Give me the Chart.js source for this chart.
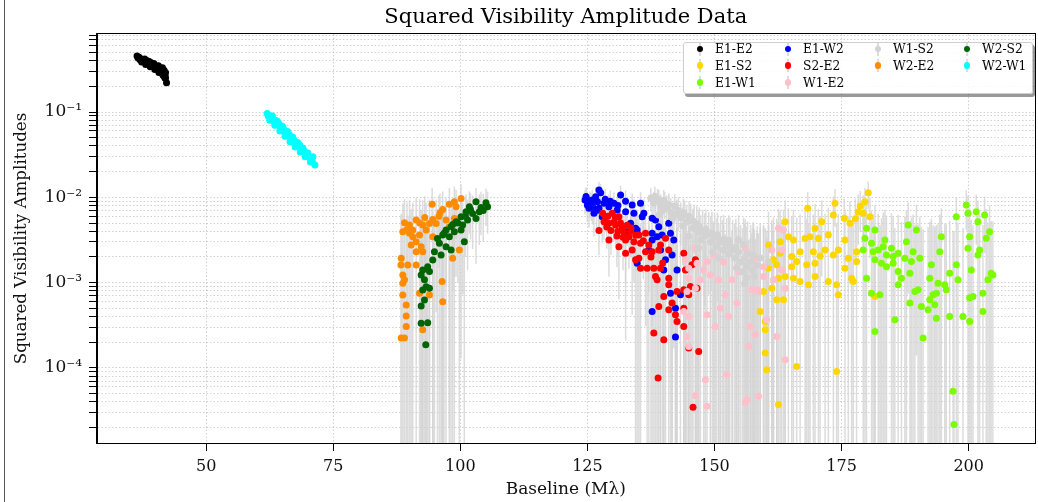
<!DOCTYPE html>
<html>
<head>
<meta charset="utf-8">
<title>Squared Visibility Amplitude Data</title>
<script src="https://cdn.jsdelivr.net/npm/chart.js@4.4.0/dist/chart.umd.min.js"></script>
<style>
  html, body { margin: 0; padding: 0; background: #fff; }
  #wrap { position: relative; width: 1038px; height: 502px; overflow: hidden; }
  #edge { position: absolute; left: 4px; top: 0; width: 1px; height: 502px; background: #555; }
  #legend {
    position: absolute; left: 683px; top: 42px; width: 348px; height: 50px;
    border: 1px solid #cfcfcf; border-radius: 3px; background: rgba(255,255,255,0.85);
    box-shadow: 2px 3px 0 rgba(0,0,0,0.4);
    font-family: 'DejaVu Serif', serif; font-size: 12.3px; color: #000;
  }
  .item { position: absolute; height: 17px; display: flex; align-items: center; white-space: nowrap; }
  .mk { position: relative; width: 12px; height: 17px; margin-right: 9px; flex: none; }
  .mk .bar { position: absolute; left: 5.25px; top: 2px; width: 1.5px; height: 13px; background: rgba(211,211,211,0.8); }
  .mk .dot { position: absolute; left: 2.75px; top: 5.25px; width: 6.5px; height: 6.5px; border-radius: 50%; }
</style>
</head>
<body>
<div id="wrap">
  <canvas id="chart" width="1038" height="502"></canvas>
  <div id="edge"></div>
  <div id="legend"></div>
</div>
<script>
// Baseline pairs, each point is [baseline (Mλ), V²]
const seriesNames = ['E1-E2', 'E1-S2', 'E1-W1', 'E1-W2', 'S2-E2', 'W1-E2', 'W1-S2', 'W2-E2', 'W2-S2', 'W2-W1'];

const E1_E2 = [[36.4,0.455],[36.6,0.43],[36.8,0.44],[37.0,0.41],[37.2,0.42],[37.5,0.40],[37.7,0.41],[38.0,0.39],[38.2,0.38],[38.4,0.40],
  [38.7,0.37],[38.9,0.36],[39.1,0.38],[39.4,0.35],[39.6,0.34],[39.8,0.36],[40.1,0.33],[40.3,0.32],[40.5,0.34],[40.8,0.31],
  [41.0,0.30],[41.2,0.32],[41.4,0.29],[41.6,0.28],[41.7,0.31],[41.9,0.27],[42.0,0.29],[41.8,0.26],[42.0,0.25],[42.2,0.22],
  [37.3,0.385],[38.1,0.36],[39.0,0.34],[39.9,0.315],[40.7,0.29],[41.5,0.27],[41.9,0.25],
  [37.9,0.42],[38.8,0.39],[39.7,0.37],[40.6,0.35],[41.4,0.33]];

const E1_S2 = [[168.33,0.00744],[173.71,0.00851],[180.24,0.01132],[179.59,0.00888],[178.28,0.00679],[179.26,0.00650],[180.58,0.00593],
  [163.90,0.00518],[171.08,0.00518],[173.38,0.00621],[175.53,0.00568],[176.65,0.00497],[169.78,0.00434],[172.39,0.00362],
  [167.82,0.00331],[168.80,0.00346],[170.43,0.00331],[164.54,0.00346],[165.53,0.00317],[162.92,0.00302],[160.63,0.00277],
  [175.67,0.00317],[177.95,0.00231],[174.36,0.00242],[171.75,0.00242],[169.45,0.00231],[166.84,0.00231],[165.19,0.00202],
  [162.92,0.00221],[161.60,0.00185],[166.17,0.00177],[168.13,0.00162],[169.78,0.00169],[170.77,0.00206],[173.38,0.00211],
  [176.32,0.00193],[177.95,0.00177],[175.67,0.00148],[160.63,0.00148],[162.25,0.00162],[165.19,0.00154],[163.90,0.00118],
  [162.58,0.00113],[165.53,0.00113],[166.84,0.00103],[168.47,0.000943],[169.78,0.00118],[172.39,0.00103],[174.02,0.000943],
  [174.36,0.000720],[176.97,0.00113],[177.30,0.00103],[161.27,0.000863],[159.64,0.000787],[162.25,0.000629],[163.57,0.000629],
  [181.56,0.000688],[158.99,0.000459],[159.98,0.000351],[159.98,0.000281],[159.98,0.000150],[160.29,0.0000955],[166.17,0.000104],
  [174.02,0.0000912],[162.58,0.0000372],[178.67,0.0079],[177.70,0.0056]];

const E1_W1 = [[179.91,0.00434],[181.56,0.00414],[179.59,0.00331],[180.89,0.00290],[179.26,0.00242],[181.22,0.00231],[182.21,0.00242],
  [183.52,0.00317],[183.19,0.00264],[184.81,0.00253],[183.83,0.00211],[185.15,0.00202],[186.13,0.00221],[181.56,0.00185],
  [182.85,0.00169],[183.83,0.00154],[185.15,0.00169],[188.09,0.00474],[189.72,0.00414],[187.76,0.00302],[189.07,0.00231],
  [187.44,0.00193],[188.74,0.00177],[190.39,0.00193],[186.13,0.00135],[188.43,0.00129],[186.78,0.00113],[186.13,0.000943],
  [190.05,0.000824],[189.41,0.000787],[188.43,0.000576],[179.91,0.00113],[180.89,0.000754],[182.54,0.000720],[185.48,0.000367],
  [181.56,0.000268],[191.03,0.000224],[190.70,0.000525],[192.66,0.00162],[192.35,0.00113],[193.97,0.000987],[193.64,0.000754],
  [192.99,0.000720],[192.35,0.000629],[192.01,0.000481],[193.33,0.000550],[193.64,0.000384],[194.62,0.00346],[194.31,0.00231],
  [195.29,0.000943],[195.60,0.000824],[196.27,0.00129],[197.57,0.00162],[197.90,0.00108],[196.27,0.000401],[197.57,0.00593],
  [199.53,0.00813],[199.86,0.00650],[200.19,0.00346],[199.86,0.00253],[200.51,0.00141],[200.19,0.000659],[200.84,0.000688],
  [198.88,0.000401],[200.19,0.000351],[201.49,0.00679],[201.82,0.00518],[203.13,0.00621],[204.11,0.00396],[203.45,0.00331],
  [202.15,0.00242],[201.82,0.00211],[204.42,0.00129],[204.76,0.00123],[203.78,0.00108],[202.80,0.000754],[202.80,0.000459],
  [196.92,0.0000532],[197.11,0.0000217]];

const E1_W2 = [[124.98,0.00813],[125.96,0.00930],[126.62,0.01016],[127.60,0.01132],[125.31,0.00744],[126.29,0.00650],[127.27,0.00744],
  [128.25,0.00851],[129.23,0.00776],[127.92,0.00593],[130.21,0.00851],[131.53,0.01064],[130.86,0.00710],[133.80,0.00813],
  [135.45,0.00851],[134.14,0.00650],[135.77,0.00593],[133.49,0.00497],[134.47,0.00434],[132.51,0.00396],[138.39,0.00543],
  [139.04,0.00453],[141.00,0.00497],[137.73,0.00379],[138.71,0.00346],[141.99,0.00317],[137.08,0.00242],[141.65,0.00211],
  [140.36,0.00185],[134.78,0.00169],[140.02,0.00141],[142.63,0.00141],[141.34,0.000754],[143.30,0.000720],[137.73,0.000459],
  [142.32,0.000503],[142.32,0.000230],[132.51,0.00679],[136.10,0.00650],[137.73,0.00568],[139.69,0.00362],[141.34,0.00379],
  [134.78,0.00414],[137.73,0.00317],[139.38,0.00242],[124.53,0.0093],[124.72,0.0102],[125.77,0.0083],[126.98,0.0089],[127.27,0.0122],
  [125.5,0.0087],[126.0,0.0078],[126.8,0.0070],[128.5,0.0095],[129.5,0.0090],[124.8,0.0097],[131.0,0.0080],[132.5,0.0090]];

const S2_E2 = [[128.58,0.00593],[129.88,0.00650],[131.19,0.00593],[129.23,0.00497],[130.55,0.00474],[131.84,0.00453],[128.25,0.00518],
  [129.23,0.00317],[131.19,0.00264],[132.51,0.00317],[133.16,0.00346],[134.14,0.00302],[135.12,0.00362],[136.43,0.00379],
  [135.45,0.00290],[137.08,0.00277],[132.51,0.00221],[133.80,0.00242],[136.43,0.00231],[135.12,0.00193],[137.73,0.00231],
  [139.04,0.00242],[140.36,0.00331],[139.38,0.00277],[141.00,0.00242],[135.45,0.00148],[136.75,0.00148],[138.06,0.00148],
  [139.38,0.00148],[134.47,0.00185],[138.39,0.00118],[138.71,0.00108],[141.00,0.00113],[143.95,0.00221],[146.24,0.00185],
  [145.57,0.00162],[144.28,0.00141],[141.00,0.000943],[142.63,0.000787],[143.95,0.000824],[145.26,0.000900],[146.56,0.000863],
  [144.93,0.000720],[140.02,0.000688],[139.04,0.000525],[141.65,0.000576],[141.00,0.000481],[142.32,0.000420],[143.95,0.000503],
  [142.63,0.000351],[143.95,0.000307],[138.06,0.000257],[140.02,0.000214],[144.93,0.000171],[146.89,0.000156],[138.90,0.0000764],
  [145.77,0.0000346],[129.62,0.0041],[130.80,0.00353],[132.18,0.00393],[133.57,0.00437],[127.27,0.0041],[130.21,0.0051],
  [128.0,0.0065],[129.0,0.0060],[130.5,0.0058],[131.5,0.0050],[132.8,0.0047],[133.5,0.0040],[134.5,0.0036],[131.0,0.0040],
  [132.0,0.0034],[128.8,0.0045],[136.0,0.0031],[137.5,0.0020],[139.8,0.0017]];

const W1_E2 = [[146.24,0.00253],[144.28,0.00185],[144.93,0.00148],[146.56,0.00169],[148.52,0.00177],[149.18,0.00123],[147.22,0.00108],
  [144.93,0.00113],[144.59,0.000787],[146.24,0.000863],[143.95,0.000459],[144.93,0.000401],[148.52,0.000420],[151.15,0.000503],
  [152.13,0.000720],[153.42,0.00108],[150.81,0.00108],[150.16,0.000307],[152.77,0.000401],[154.40,0.000576],[157.68,0.00193],
  [156.05,0.00253],[159.64,0.00154],[158.34,0.000824],[159.64,0.00118],[157.03,0.000307],[158.01,0.000245],[156.70,0.000179],
  [144.93,0.000179],[144.59,0.000234],[152.44,0.0000835],[148.20,0.0000730],[146.24,0.0000474],[148.52,0.0000356],[156.05,0.0000390],
  [163.57,0.00414],[163.23,0.00242],[163.23,0.00141],[162.25,0.000234],[163.90,0.000125],[162.58,0.00434],[161.27,0.00242],
  [161.60,0.00108],[157.35,0.000824],[158.66,0.000787],[163.90,0.000863],[160.29,0.000367],[156.37,0.0000426],[158.66,0.0000465],
  [147.87,0.00141],[149.83,0.00211],[151.79,0.00175],[154.74,0.00134]];

const W1_S2 = [[137.47,0.00981],[138.26,0.0103],[139.04,0.00930],[138.06,0.00857],[139.43,0.00791],[140.22,0.00857],[140.61,0.00750],
  [141.40,0.00673],[139.82,0.00710],[142.18,0.00791],[142.57,0.00638],[143.36,0.00573],[141.79,0.00573],[144.14,0.00621],
  [144.53,0.00514],[143.75,0.00461],[145.32,0.00543],[145.71,0.00437],[146.50,0.00487],[146.89,0.00393],[147.67,0.00414],
  [148.07,0.00353],[147.28,0.00317],[148.85,0.00372],[149.24,0.00300],[150.03,0.00334],[150.42,0.00269],[151.20,0.00300],
  [151.60,0.00242],[149.64,0.00229],[152.38,0.00269],[152.77,0.00217],[153.56,0.00242],[153.95,0.00195],[154.74,0.00229],
  [155.13,0.00175],[154.34,0.00149],[155.91,0.00195],[156.31,0.00157],[155.52,0.00134],[157.09,0.00175],[157.48,0.00141],
  [156.31,0.00114],[157.88,0.00119],[155.91,0.000968],[154.74,0.00317],[144.93,0.00353],[150.81,0.00195],[146.89,0.00255],
  [139.04,0.00621],[152.77,0.00317],[155.72,0.00277],[158.99,0.00195],[160.63,0.00175],
  [138.8,0.0095],[140.0,0.0092],[141.0,0.0082],[142.9,0.0070],[143.9,0.0066],[145.0,0.0060],[146.0,0.0052],[147.0,0.0046],
  [148.3,0.0042],[149.5,0.0038],[150.6,0.0036],[151.8,0.0032],[153.0,0.0028],[154.2,0.0026],[156.5,0.0022],[157.6,0.0021],[158.4,0.0016]];

const W2_E2 = [[94.45,0.00833],[97.84,0.00833],[98.82,0.00886],[100.14,0.00971],[99.16,0.00774],[96.53,0.00722],[89.01,0.00503],
  [89.99,0.00473],[88.68,0.00395],[90.64,0.00413],[91.31,0.00541],[92.60,0.00473],[93.92,0.00495],[94.57,0.00551],[95.24,0.00495],
  [93.27,0.00413],[90.64,0.00345],[91.96,0.00361],[91.31,0.00302],[90.33,0.00276],[92.29,0.00264],[91.31,0.00230],[92.60,0.00230],
  [94.57,0.00345],[97.19,0.00541],[97.84,0.00452],[98.82,0.00566],[88.37,0.00193],[88.31,0.00161],[89.66,0.00161],[91.31,0.00161],
  [99.80,0.00241],[98.49,0.00193],[88.68,0.00123],[89.01,0.00108],[88.68,0.000984],[96.41,0.00103],[91.96,0.000752],[93.92,0.000718],
  [88.68,0.000718],[89.35,0.000548],[96.53,0.000599],[89.35,0.000408],[89.35,0.000306],[92.60,0.000280],[88.37,0.000224],
  [89.01,0.000224],[89.5,0.0042],[90.0,0.0038],[92.0,0.0050],[93.0,0.0058],[95.8,0.0060],[96.0,0.0066]];

const W2_S2 = [[103.08,0.00886],[105.04,0.00862],[105.36,0.00774],[104.06,0.00762],[101.77,0.00774],[101.12,0.00677],[102.41,0.00648],
  [103.73,0.00677],[100.14,0.00591],[101.43,0.00541],[103.08,0.00566],[99.16,0.00517],[100.45,0.00473],[98.18,0.00452],
  [97.19,0.00413],[98.82,0.00395],[96.53,0.00361],[97.84,0.00345],[100.14,0.00413],[100.78,0.00302],[95.88,0.00289],
  [97.19,0.00264],[98.18,0.00241],[94.90,0.00230],[96.21,0.00211],[94.57,0.00184],[93.58,0.00154],[92.60,0.00141],
  [93.92,0.00135],[92.29,0.00123],[92.94,0.00108],[93.27,0.000898],[93.92,0.000860],[92.60,0.000821],[92.94,0.000628],
  [92.29,0.000534],[92.29,0.000335],[93.58,0.000340],[93.20,0.000187],[102.0,0.0072],[104.5,0.0070],[99.5,0.0050],
  [101.0,0.0060],[98.5,0.0048],[96.8,0.0038],[95.5,0.0033]];

const W2_W1 = [[62.0,0.096],[62.2,0.090],[62.4,0.092],[62.6,0.086],[62.9,0.088],[63.1,0.082],[63.3,0.078],[63.6,0.080],[63.8,0.074],
  [64.0,0.072],[64.3,0.073],[64.5,0.067],[64.8,0.065],[65.0,0.062],[65.2,0.064],[65.5,0.058],[65.8,0.056],[66.0,0.054],[66.3,0.055],
  [66.5,0.050],[66.8,0.048],[67.0,0.046],[67.3,0.047],[67.6,0.043],[67.9,0.041],[68.1,0.040],[68.4,0.041],[68.7,0.037],[69.0,0.035],
  [69.3,0.035],[69.6,0.032],[69.9,0.031],[70.2,0.030],[70.5,0.029],[70.7,0.028],[70.9,0.026],[71.0,0.030],
  [62.5,0.080],[63.5,0.070],[64.5,0.060],[65.5,0.052],[66.5,0.045],[67.5,0.039],[68.5,0.034],[69.5,0.030],[70.5,0.026],
  [63.0,0.090],[64.0,0.078],[65.0,0.068],[66.0,0.059],[67.0,0.051],[68.0,0.044],[69.0,0.038],[70.0,0.033],[71.4,0.024]];

// One-sigma V² uncertainty for each baseline, same order as seriesNames
const errorSigma = [0.01, 0.004, 0.004, 0.003, 0.002, 0.003, 0.003, 0.0045, 0.004, 0.002];

const xTicks = [50, 75, 100, 125, 150, 175, 200];
const yMajorTicks = [1e-4, 1e-3, 1e-2, 1e-1];
const yTickLabels = ['10⁻⁴', '10⁻³', '10⁻²', '10⁻¹'];

const seriesData = [E1_E2, E1_S2, E1_W1, E1_W2, S2_E2, W1_E2, W1_S2, W2_E2, W2_S2, W2_W1];
const seriesColors = ['#000000', '#ffd700', '#7cfc00', '#0000ff', '#ff0000', '#ffc0cb', '#d3d3d3', '#ff8c00', '#006400', '#00ffff'];

const FONT = "'DejaVu Serif', serif";
const X_MIN = 28.52, X_MAX = 212.95, Y_MIN = 1.32e-5, Y_MAX = 0.822;
const BAR_FLOOR = 1e-8; // lower whiskers that cross zero run off the bottom of the log axis

// minor + major positions on the log axis (1..9 × 10^k)
const yAllTicks = [];
for (let k = -5; k <= 0; k++) {
  for (let m = 1; m <= 9; m++) {
    const v = m * Math.pow(10, k);
    if (v >= Y_MIN && v <= Y_MAX) yAllTicks.push(v);
  }
}

function whiskers(points, sigma) {
  const out = [];
  points.forEach(([x, y]) => {
    const lo = y - sigma;
    out.push({ x: x, y: lo > 0 ? lo : BAR_FLOOR }, { x: x, y: y + sigma }, { x: x, y: null });
  });
  return out;
}

const datasets = [];
seriesNames.forEach((name, k) => {
  datasets.push({
    type: 'line',
    label: name + ' err',
    data: whiskers(seriesData[k], errorSigma[k]),
    borderColor: 'rgba(211,211,211,0.8)',
    borderWidth: 1.5,
    pointRadius: 0,
    pointHitRadius: 0,
    showLine: true,
    spanGaps: false,
    fill: false,
    tension: 0,
    order: 100 + (seriesNames.length - k)
  });
  datasets.push({
    type: 'scatter',
    label: name,
    data: seriesData[k].map(([x, y]) => ({ x: x, y: y })),
    backgroundColor: seriesColors[k],
    borderWidth: 0,
    pointRadius: 3.5,
    pointHoverRadius: 3.5,
    order: seriesNames.length - k
  });
});

// axes box on all four sides
const frame = {
  id: 'frame',
  afterDatasetsDraw(chart) {
    const { ctx, chartArea: a } = chart;
    ctx.save();
    ctx.strokeStyle = '#000';
    ctx.lineWidth = 1;
    ctx.strokeRect(Math.round(a.left) - 0.5, Math.round(a.top) - 0.5,
                   Math.round(a.right - a.left) + 1, Math.round(a.bottom - a.top) + 1);
    ctx.restore();
  }
};

Chart.defaults.font.family = FONT;
Chart.defaults.color = '#000';

new Chart(document.getElementById('chart'), {
  type: 'scatter',
  data: { datasets },
  plugins: [frame],
  options: {
    responsive: false,
    animation: false,
    events: [],
    layout: { padding: { left: 0, right: 1, top: 0, bottom: 0 } },
    plugins: {
      legend: { display: false },
      tooltip: { enabled: false },
      title: {
        display: true,
        fullSize: false,
        text: 'Squared Visibility Amplitude Data',
        color: '#000',
        font: { family: FONT, size: 21, weight: 'normal', lineHeight: 1.2 },
        padding: { top: 5, bottom: 3.8 }
      }
    },
    scales: {
      x: {
        type: 'linear',
        min: X_MIN,
        max: X_MAX,
        afterBuildTicks: s => { s.ticks = xTicks.map(v => ({ value: v })); },
        afterFit: s => { s.height = 59; },
        ticks: {
          autoSkip: false,
          maxRotation: 0,
          padding: 6,
          color: '#111',
          font: { family: FONT, size: 16 },
          callback: v => String(v)
        },
        grid: { color: 'rgba(160,160,160,0.55)', lineWidth: 0.9, tickLength: 8, tickColor: '#000', tickWidth: 1 },
        border: { display: true, color: '#000', width: 1, dash: [1.5, 2] },
        title: {
          display: true,
          text: 'Baseline (Mλ)',
          color: '#111',
          font: { family: FONT, size: 17, lineHeight: 1.2 },
          padding: { top: 0, bottom: 2 }
        }
      },
      y: {
        type: 'logarithmic',
        min: Y_MIN,
        max: Y_MAX,
        afterBuildTicks: s => { s.ticks = yAllTicks.map(v => ({ value: v })); },
        afterFit: s => { s.width = 97; },
        ticks: {
          autoSkip: false,
          padding: 7,
          color: '#111',
          font: { family: FONT, size: 17 },
          callback: v => {
            const i = yMajorTicks.findIndex(t => Math.abs(Math.log10(t) - Math.log10(v)) < 1e-6);
            return i >= 0 ? yTickLabels[i] : '';
          }
        },
        grid: { color: 'rgba(160,160,160,0.55)', lineWidth: 0.9, tickLength: 8, tickColor: '#000', tickWidth: 1 },
        border: { display: true, color: '#000', width: 1, dash: [1.5, 2] },
        title: {
          display: true,
          text: 'Squared Visibility Amplitudes',
          color: '#111',
          font: { family: FONT, size: 16.7, lineHeight: 1.2 },
          padding: { top: 12, bottom: 0 }
        }
      }
    }
  }
});

// legend: four columns filled top-to-bottom (3, 3, 2, 2 entries)
const legend = document.getElementById('legend');
const legendCol = [0, 0, 0, 1, 1, 1, 2, 2, 3, 3];
const legendRow = [0, 1, 2, 0, 1, 2, 0, 1, 0, 1];
const colLeft = [10, 98, 188, 277];
const rowTop = [-2.5, 14.2, 31];
seriesNames.forEach((name, k) => {
  const item = document.createElement('div');
  item.className = 'item';
  item.style.left = colLeft[legendCol[k]] + 'px';
  item.style.top = rowTop[legendRow[k]] + 'px';
  item.innerHTML = '<span class="mk"><span class="bar"></span><span class="dot" style="background:' +
    seriesColors[k] + '"></span></span><span>' + name + '</span>';
  legend.appendChild(item);
});
</script>
</body>
</html>
